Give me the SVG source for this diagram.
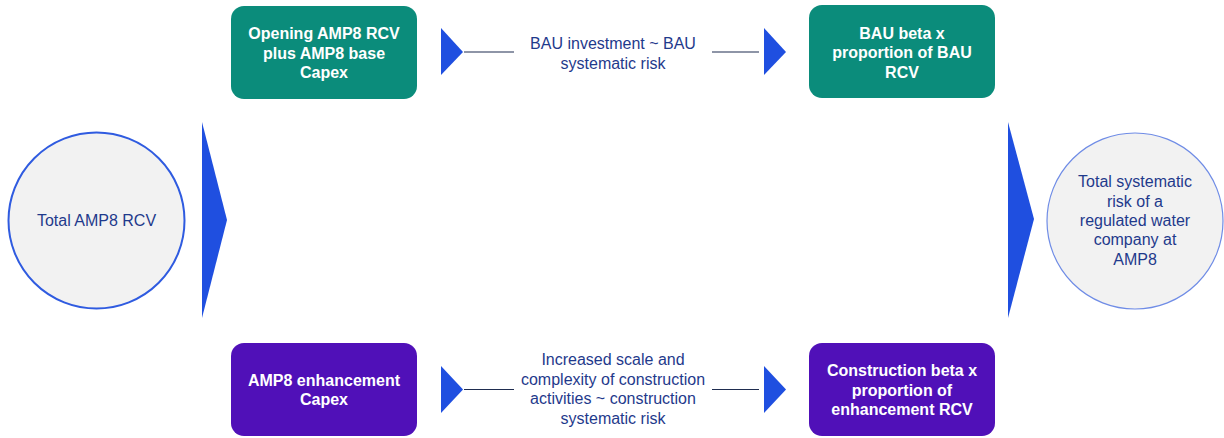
<svg xmlns="http://www.w3.org/2000/svg" width="1224" height="438" viewBox="0 0 1224 438">
<style>
.box-g{fill:#0B8C7B}
.box-p{fill:#5010B8}
.bt{font-family:"Liberation Sans",Arial,sans-serif;font-size:16px;font-weight:bold;fill:#ffffff;text-anchor:middle}
.lt{font-family:"Liberation Sans",Arial,sans-serif;font-size:16px;fill:#1F3A8C;text-anchor:middle}
.tri{fill:#1F4FE0}
.ln{stroke:#1F2D50;stroke-width:1.2;fill:none}
.circ{fill:#F2F2F2}
</style>
<rect width="1224" height="438" fill="#ffffff"/>
<g id="connectors">
<polygon class="tri" points="202,122 227,220 202,318"/>
<polygon class="tri" points="1008,122 1034,219 1008,318"/>
<polygon class="tri" points="441,28 463,52 441,75"/>
<line class="ln" x1="464" y1="52" x2="514" y2="52"/>
<line class="ln" x1="712" y1="52" x2="759" y2="52"/>
<polygon class="tri" points="764,28 786,52 764,75"/>
<polygon class="tri" points="441,366 463,389.5 441,413"/>
<line class="ln" x1="464" y1="389.5" x2="514" y2="389.5"/>
<line class="ln" x1="712" y1="389.5" x2="759" y2="389.5"/>
<polygon class="tri" points="764,366 786,389.5 764,413"/>
<text class="lt" x="613" y="49">BAU investment ~ BAU</text>
<text class="lt" x="613" y="68.5">systematic risk</text>
<text class="lt" x="613" y="365">Increased scale and</text>
<text class="lt" x="613" y="384.5">complexity of construction</text>
<text class="lt" x="613" y="404">activities ~ construction</text>
<text class="lt" x="613" y="423.5">systematic risk</text>
</g>
<g id="total-rcv">
<circle class="circ" cx="96.5" cy="220.5" r="88" stroke="#2F5BE0" stroke-width="2"/>
<text class="lt" x="96.5" y="226">Total AMP8 RCV</text>
</g>
<g id="opening-rcv">
<rect class="box-g" x="231" y="6" width="186" height="93" rx="13"/>
<text class="bt" x="324" y="39">Opening AMP8 RCV</text>
<text class="bt" x="324" y="58.5">plus AMP8 base</text>
<text class="bt" x="324" y="78">Capex</text>
</g>
<g id="bau-beta">
<rect class="box-g" x="809" y="5" width="186" height="93" rx="13"/>
<text class="bt" x="902" y="38.5">BAU beta x</text>
<text class="bt" x="902" y="58">proportion of BAU</text>
<text class="bt" x="902" y="77.5">RCV</text>
</g>
<g id="enhancement-capex">
<rect class="box-p" x="231" y="343" width="186" height="93" rx="13"/>
<text class="bt" x="324" y="386">AMP8 enhancement</text>
<text class="bt" x="324" y="405">Capex</text>
</g>
<g id="construction-beta">
<rect class="box-p" x="809" y="343" width="186" height="93" rx="13"/>
<text class="bt" x="902" y="376">Construction beta x</text>
<text class="bt" x="902" y="395.5">proportion of</text>
<text class="bt" x="902" y="415">enhancement RCV</text>
</g>
<g id="total-risk">
<circle class="circ" cx="1135" cy="221" r="88" stroke="#6F8CE6" stroke-width="1.2"/>
<text class="lt" x="1135" y="187">Total systematic</text>
<text class="lt" x="1135" y="206.5">risk of a</text>
<text class="lt" x="1135" y="226">regulated water</text>
<text class="lt" x="1135" y="245">company at</text>
<text class="lt" x="1135" y="264.5">AMP8</text>
</g>
</svg>
